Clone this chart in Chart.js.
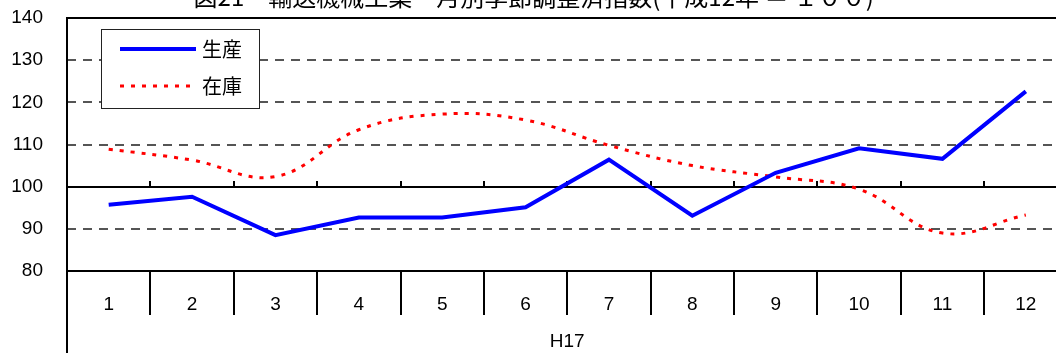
<!DOCTYPE html>
<html>
<head>
<meta charset="utf-8">
<script src="https://cdn.jsdelivr.net/npm/chart.js@4"></script>
<style>
    html, body { margin: 0; padding: 0; overflow: hidden; background: #fff; width: 1056px; height: 353px; }
    #wrap { position: absolute; left: 0; top: -20px; width: 1080px; height: 373px; }
</style>
</head>
<body>
<div id="wrap"><canvas id="chart"></canvas></div>
<script>
const months = ['1', '2', '3', '4', '5', '6', '7', '8', '9', '10', '11', '12'];
const production = [95.7, 97.6, 88.5, 92.7, 92.7, 95.1, 106.4, 93.1, 103.3, 109.1, 106.6, 122.6];
const inventory = [108.9, 106.3, 102.4, 113.5, 117.2, 115.8, 109.8, 105.0, 102.3, 99.4, 89.0, 93.3];
const seriesNames = ['生産', '在庫'];
const yearLabel = 'H17';
const dashedGrid = [90, 110, 120, 130];

Chart.defaults.font.family = "'Liberation Sans', Arial, sans-serif";
Chart.defaults.color = '#000';

// gridlines, the 100 axis with its ticks, top border
const gridPlugin = {
    id: 'gridPlugin',
    beforeDatasetsDraw: (chart) => {
        const { ctx, chartArea, scales } = chart;
        const x = scales.x, y = scales.y;
        ctx.save();
        ctx.strokeStyle = '#555';
        ctx.lineWidth = 2;
        ctx.setLineDash([9, 7]);
        dashedGrid.forEach((v) => {
            const py = Math.round(y.getPixelForValue(v));
            ctx.beginPath();
            ctx.moveTo(chartArea.left, py);
            ctx.lineTo(chartArea.right, py);
            ctx.stroke();
        });
        ctx.setLineDash([]);
        ctx.strokeStyle = '#000';
        ctx.lineWidth = 2;
        const p100 = Math.round(y.getPixelForValue(100));
        ctx.beginPath();
        ctx.moveTo(chartArea.left, p100);
        ctx.lineTo(chartArea.right, p100);
        const half = (x.getPixelForValue(1) - x.getPixelForValue(0)) / 2;
        for (let i = 0; i < months.length - 1; i++) {
            const px = Math.round(x.getPixelForValue(i) + half);
            ctx.moveTo(px, p100);
            ctx.lineTo(px, p100 - 6);
        }
        const top = Math.round(y.getPixelForValue(140));
        ctx.moveTo(chartArea.left, top);
        ctx.lineTo(chartArea.right, top);
        ctx.stroke();
        ctx.restore();
    },
    afterDraw: (chart) => {
        const { ctx, chartArea } = chart;
        ctx.save();
        // left axis runs down through the label table
        ctx.strokeStyle = '#000';
        ctx.lineWidth = 2;
        ctx.beginPath();
        ctx.moveTo(chartArea.left, chartArea.top);
        ctx.lineTo(chartArea.left, chart.height);
        ctx.stroke();

        // legend box inside the plot
        const lx = 101.5, ly = 49.5, lw = 158, lh = 79;
        ctx.fillStyle = '#fff';
        ctx.fillRect(lx, ly, lw, lh);
        ctx.strokeStyle = '#222';
        ctx.lineWidth = 1;
        ctx.strokeRect(lx, ly, lw, lh);
        ctx.font = "20px 'Noto Sans CJK JP'";
        ctx.textBaseline = 'middle';
        chart.data.datasets.forEach((ds, i) => {
            const rowY = i === 0 ? 69 : 106;
            ctx.strokeStyle = ds.borderColor;
            ctx.lineWidth = ds.borderWidth;
            ctx.setLineDash(ds.borderDash || []);
            ctx.beginPath();
            ctx.moveTo(120, rowY);
            ctx.lineTo(196, rowY);
            ctx.stroke();
            ctx.setLineDash([]);
            ctx.fillStyle = '#000';
            ctx.fillText(ds.label, 202, rowY);
        });
        ctx.restore();
    }
};

new Chart(document.getElementById('chart'), {
    type: 'line',
    data: {
        labels: months,
        datasets: [{
            label: seriesNames[0],
            data: production,
            borderColor: '#0000ff',
            borderWidth: 4,
            tension: 0,
            pointRadius: 0
        }, {
            label: seriesNames[1],
            data: inventory,
            borderColor: '#ff0000',
            borderWidth: 3,
            borderDash: [4, 7],
            tension: 0.4,
            pointRadius: 0
        }]
    },
    options: {
        responsive: true,
        maintainAspectRatio: false,
        animation: false,
        layout: {
            padding: { left: 0, right: 12.5, top: 0, bottom: 0 }
        },
        plugins: {
            legend: { display: false },
            tooltip: { enabled: false },
            title: {
                display: true,
                text: '図21　輸送機械工業　月別季節調整済指数(平成12年 ＝ １００)',
                color: '#000',
                font: { family: "'Noto Sans CJK JP'", size: 24, weight: 'normal', lineHeight: 1.2 },
                padding: { top: 2, bottom: 7.2 }
            }
        },
        scales: {
            x: {
                type: 'category',
                offset: true,
                grid: {
                    display: true,
                    drawOnChartArea: false,
                    drawTicks: true,
                    tickLength: 44,
                    offset: true,
                    color: '#000',
                    lineWidth: 2
                },
                border: { display: true, color: '#000', width: 2 },
                ticks: {
                    font: { size: 19 },
                    color: '#000',
                    padding: -22,
                    maxRotation: 0,
                    autoSkip: false
                },
                title: {
                    display: true,
                    text: yearLabel,
                    font: { size: 19 },
                    color: '#000',
                    padding: { top: 0, bottom: 0 }
                },
                afterFit: (s) => { s.height = 82; }
            },
            y: {
                min: 80,
                max: 140,
                grid: { display: false, drawTicks: false },
                border: { display: true, color: '#000', width: 2 },
                ticks: {
                    stepSize: 10,
                    font: { size: 19 },
                    color: '#000',
                    padding: 24
                },
                afterFit: (s) => { s.width = 67; }
            }
        }
    },
    plugins: [gridPlugin]
});
</script>
</body>
</html>
